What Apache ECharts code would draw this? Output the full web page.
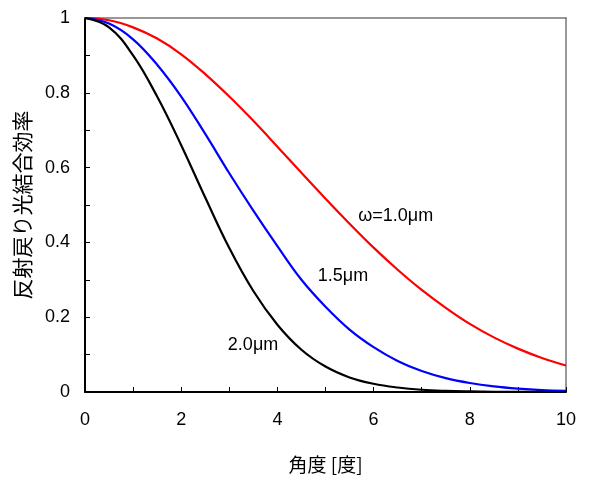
<!DOCTYPE html>
<html><head><meta charset="utf-8">
<script src="https://cdn.jsdelivr.net/npm/echarts@6/dist/echarts.min.js"></script>
<style>html,body{margin:0;padding:0;background:#fff}#c{width:590px;height:479px}</style>
</head><body><div id="c"></div>
<script>
const angles = [0,0.5,1,1.5,2,2.5,3,3.5,4,4.5,5,5.5,6,6.5,7,7.5,8,8.5,9,9.5,10];
const red10 = [1.0,0.994,0.975,0.945,0.903,0.85,0.79,0.725,0.656,0.586,0.517,0.45,0.386,0.327,0.273,0.225,0.182,0.146,0.116,0.091,0.071];
const blue15 = [1.0,0.985,0.943,0.875,0.79,0.69,0.585,0.485,0.39,0.30,0.228,0.167,0.12,0.083,0.056,0.037,0.024,0.015,0.009,0.005,0.003];
const black20 = [1.0,0.975,0.9,0.79,0.66,0.52,0.385,0.27,0.18,0.113,0.068,0.039,0.022,0.012,0.006,0.003,0.0015,0.0007,0.0003,0.0001,0.0];
const seriesNames = ['ω=1.0μm','1.5μm','2.0μm'];
const labelPos = [[5.68,0.471],[4.84,0.309],[2.97,0.125]];
const xTicks = [0,2,4,6,8,10];
const yTicks = [0,0.2,0.4,0.6,0.8,1];

const font = 'Liberation Sans, Arial, sans-serif';
const cjk = '"Noto Sans CJK JP", sans-serif';
function pairs(ys){return angles.map((x,i)=>[x,ys[i]]);}
function mk(name, ys, color, pos){
  return {
    name, type:'line', data:pairs(ys), smooth:0.4, symbol:'none',
    lineStyle:{color, width:2.2}, itemStyle:{color}, z:3,
    markPoint:{symbol:'circle', symbolSize:0, silent:true,
      label:{show:true, formatter:name, position:'right', distance:0, color:'#000', fontSize:18, fontFamily:font},
      data:[{coord:pos}]}
  };
}
const chart = echarts.init(document.getElementById('c'), null, {renderer:'canvas'});
chart.setOption({
  animation:false,
  backgroundColor:'#fff',
  grid:{left:85, top:18, width:481, height:376},
  xAxis:[{type:'value', min:xTicks[0], max:xTicks[xTicks.length-1], interval:2,
    name:'角度 [度]', nameLocation:'middle', nameGap:63,
    nameTextStyle:{fontFamily:cjk, fontSize:19, color:'#000'},
    axisLine:{lineStyle:{color:'#000', width:2}},
    axisTick:{inside:true, length:5, lineStyle:{color:'#000', width:1}},
    minorTick:{show:true, splitNumber:2, length:5, lineStyle:{color:'#000', width:1}},
    axisLabel:{fontSize:18, fontFamily:font, color:'#000', margin:19},
    splitLine:{show:false}},
   {type:'value', position:'top', min:0, max:10, axisLine:{onZero:false, lineStyle:{color:'#777', width:1.5}},
    axisTick:{show:false}, axisLabel:{show:false}, splitLine:{show:false}}],
  yAxis:[{type:'value', min:yTicks[0], max:yTicks[yTicks.length-1], interval:0.2,
    name:'反射戻り光結合効率', nameLocation:'middle', nameGap:52, nameRotate:90,
    nameTextStyle:{fontFamily:cjk, fontSize:21, color:'#000'},
    axisLine:{show:true, lineStyle:{color:'#000', width:2}},
    axisTick:{show:true, inside:true, length:5, lineStyle:{color:'#000', width:1}},
    minorTick:{show:true, splitNumber:2, length:5, lineStyle:{color:'#000', width:1}},
    axisLabel:{fontSize:18, fontFamily:font, color:'#000', margin:15},
    splitLine:{show:false}},
   {type:'value', position:'right', min:0, max:1, axisLine:{show:true, onZero:false, lineStyle:{color:'#777', width:1.5}},
    axisTick:{show:false}, axisLabel:{show:false}, splitLine:{show:false}}],
  series:[
    mk(seriesNames[0], red10, '#ff0000', labelPos[0]),
    mk(seriesNames[1], blue15, '#0000ff', labelPos[1]),
    mk(seriesNames[2], black20, '#000000', labelPos[2])
  ]
});
</script></body></html>
